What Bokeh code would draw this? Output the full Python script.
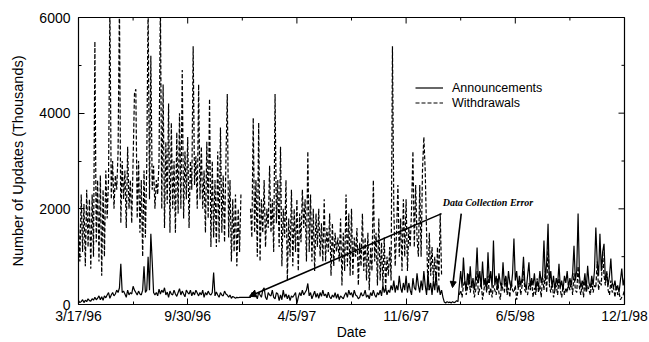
import numpy as np
from bokeh.plotting import figure
from bokeh.models import (Range1d, FixedTicker, Legend, LegendItem,
                          Arrow, NormalHead, Label)
from bokeh.embed import file_html
from bokeh.resources import INLINE

nan = float("nan")

# x axis: sample (day) index; values read every 2.5 samples from the picture
day_step = 2.5
tick_days = [0, 200, 400, 600, 800, 1000]
tick_labels = ["3/17/96", "9/30/96", "4/5/97", "11/6/97", "6/5/98", "12/1/98"]
minor_days = [100, 300, 500, 700, 900]
y_ticks = [0, 2000, 4000, 6000]
y_minor = [1000, 3000, 5000]

# Withdrawals (thousands), NaN = no data
withdrawals = [
    1700, 900, 2300, 1100, 2100, 800, 2400, 1200, 2200, 750,
    2300, 1000, 5500, 1300, 2600, 900, 2700, 600, 2400, 1000,
    2800, 1800, 2600, 6300, 2200, 3000, 2000, 2700, 2400, 3200,
    6300, 1700, 3000, 2200, 2800, 1600, 3300, 2000, 2600, 1700,
    3000, 4400, 4500, 1800, 3000, 1500, 2600, 1000, 2800, 1400,
    2900, 6300, 2200, 5200, 2400, 2900, 2000, 2600, 2300, 3000,
    6300, 2000, 4600, 1600, 3400, 2100, 4200, 1500, 3800, 2000,
    3000, 1500, 3600, 1900, 4000, 2000, 4900, 1800, 3200, 2200,
    3500, 1600, 3000, 2400, 5400, 2500, 3100, 2000, 4600, 2200,
    3300, 2000, 2800, 1500, 3400, 1800, 4300, 1200, 3000, 1400,
    2600, 1200, 3200, 1300, 3700, 1500, 2700, 1300, 3000, 4400,
    1400, 2600, 900, 2200, 1100, 2300, 800, 2000, 1100, 2300,
    nan, nan, nan, nan, nan, nan, 2000, 1400, 3900, 1500,
    2600, 1000, 3800, 900, 2200, 1500, 2600, 1200, 2000, 1600,
    2900, 1500, 2200, 1100, 4400, 1700, 2600, 1200, 3300, 800,
    2000, 1400, 2600, 500, 1800, 1000, 2400, 800, 2000, 1100,
    2200, 700, 1900, 1300, 2400, 1600, 2200, 900, 3200, 1100,
    2300, 900, 2000, 700, 1900, 1200, 2000, 1000, 1700, 900,
    2200, 900, 1600, 1100, 1900, 600, 1700, 800, 1500, 1100,
    1400, 900, 1800, 400, 1500, 700, 2300, 800, 1900, 600,
    2000, 600, 1400, 1000, 1600, 400, 1300, 800, 1900, 700,
    1400, 500, 1500, 300, 1200, 700, 2600, 900, 1500, 400,
    1800, 500, 1300, 400, 1400, 300, 1000, 600, 1200, 500,
    5400, 2000, 800, 1500, 2500, 1000, 1800, 700, 2200, 1000,
    2200, 700, 1600, 1200, 2000, 3200, 1200, 2500, 1400, 1000,
    2500, 1000, 2800, 3500, 2800, 1500, 300, 1500, 600, 1200,
    500, 1000, 400, 1200, 500, 1900, 600, nan, nan, nan,
    nan, nan, nan, nan, nan, nan, nan, nan, nan, 200,
    300, 150, 400, 500, 200, 350, 650, 250, 450, 400,
    150, 300, 700, 200, 350, 450, 100, 300, 500, 250,
    600, 200, 350, 150, 400, 300, 200, 550, 250, 100,
    450, 300, 250, 600, 200, 350, 150, 500, 300, 250,
    400, 100, 300, 500, 200, 400, 700, 300, 250, 200,
    450, 300, 500, 150, 350, 200, 550, 250, 400, 150,
    600, 300, 700, 250, 1300, 400, 250, 500, 150, 300,
    400, 200, 550, 300, 150, 400, 200, 350, 250, 450,
    300, 500, 200, 650, 300, 250, 800, 350, 200, 450,
    150, 500, 250, 400, 300, 200, 500, 250, 400, 350,
    900, 300, 500, 400, 1100, 600, 400, 700, 300, 200,
    500, 250, 350, 150, 400, 200, 250, 100, 150, 200,
    300,
]

# Announcements (thousands)
announcements = [
    80, 40, 60, 100, 40, 90, 60, 120, 80, 70,
    120, 90, 150, 100, 130, 180, 100, 160, 90, 180,
    140, 200, 250, 130, 200, 250, 180, 220, 300, 250,
    350, 850, 250, 280, 220, 150, 300, 200, 250, 220,
    380, 300, 250, 200, 280, 220, 200, 300, 800, 250,
    300, 1000, 300, 1480, 900, 250, 200, 250, 180, 320,
    220, 300, 250, 350, 200, 260, 150, 280, 220, 200,
    300, 220, 170, 250, 330, 200, 280, 220, 160, 300,
    250, 220, 300, 180, 260, 200, 300, 240, 180, 250,
    200, 300, 150, 250, 200, 280, 220, 200, 250, 670,
    180, 260, 200, 150, 250, 200, 180, 280, 220, 200,
    150, 200, 130, 170, 150, 130, 150, 140, 150, 150,
    150, 150, 150, 150, 150, 150, 150, 250, 180, 300,
    200, 120, 260, 200, 150, 300, 350, 150, 100, 250,
    200, 180, 300, 150, 120, 250, 220, 80, 200, 100,
    300, 150, 220, 120, 200, 80, 180, 150, 200, 250,
    20, 150, 250, 180, 300, 200, 250, 300, 440, 180,
    250, 120, 200, 280, 150, 230, 130, 250, 170, 300,
    180, 220, 140, 260, 160, 120, 200, 150, 250, 130,
    220, 100, 180, 150, 120, 200, 250, 150, 300, 200,
    250, 150, 300, 200, 180, 120, 150, 250, 180, 200,
    300, 150, 200, 120, 250, 180, 300, 200, 150, 250,
    200, 300, 180, 400, 250, 350, 200, 300, 250, 400,
    300, 500, 250, 400, 300, 600, 350, 250, 450, 300,
    600, 250, 450, 300, 200, 550, 350, 300, 650, 400,
    250, 500, 300, 700, 400, 200, 650, 300, 450, 200,
    500, 300, 650, 250, 400, 200, 300, 150, 50, 30,
    60, 40, 50, 30, 60, 40, 50, 80, 60, 400,
    700, 350, 980, 500, 300, 650, 400, 800, 350, 550,
    300, 600, 1190, 450, 700, 350, 900, 400, 550, 300,
    1090, 450, 700, 350, 1340, 400, 600, 300, 650, 450,
    350, 880, 400, 600, 300, 700, 450, 350, 650, 1380,
    500, 700, 350, 600, 400, 550, 1000, 450, 300, 600,
    880, 350, 550, 400, 650, 300, 500, 350, 700, 450,
    600, 1340, 500, 900, 1690, 450, 700, 350, 600, 300,
    550, 400, 850, 350, 500, 300, 600, 450, 700, 350,
    550, 400, 650, 1230, 500, 700, 1900, 600, 350, 500,
    400, 650, 300, 810, 450, 350, 600, 400, 700, 1610,
    900, 600, 1480, 700, 1100, 1270, 500, 650, 400, 600,
    960, 450, 350, 500, 300, 400, 250, 500, 750, 400,
    550,
]

assert len(withdrawals) == len(announcements) == 401
day = [k * day_step for k in range(len(withdrawals))]

FONT = "Liberation Sans"
W, H = 649, 342
BL, BR, BT, BB = 78, 25, 17, 38
X0, X1, Y0, Y1 = 0, 1000, 0, 6000

p = figure(width=W, height=H, output_backend="svg", toolbar_location=None,
           x_range=Range1d(X0, X1), y_range=Range1d(Y0, Y1),
           min_border_left=BL, min_border_right=BR, min_border_top=BT,
           min_border_bottom=BB)
p.grid.visible = False
p.outline_line_color = "black"
p.outline_line_width = 1.2
p.background_fill_color = "white"
p.border_fill_color = "white"

xt = FixedTicker(ticks=tick_days, minor_ticks=minor_days)
yt = FixedTicker(ticks=y_ticks, minor_ticks=y_minor)


def style_axis(ax):
    ax.axis_line_color = None
    ax.major_tick_in = 6
    ax.major_tick_out = 0
    ax.minor_tick_in = 3
    ax.minor_tick_out = 0
    ax.major_tick_line_color = "black"
    ax.minor_tick_line_color = "black"
    ax.major_label_text_font = FONT
    ax.major_label_text_color = "black"
    ax.axis_label_text_font = FONT
    ax.axis_label_text_font_style = "normal"
    ax.axis_label_text_color = "black"


xa = p.xaxis[0]
xa.ticker = xt
xa.major_label_overrides = {d: l for d, l in zip(tick_days, tick_labels)}
style_axis(xa)
xa.major_label_text_font_size = "14px"
xa.major_label_standoff = 3
xa.axis_label = "Date"
xa.axis_label_text_font_size = "14px"
xa.axis_label_standoff = -3

ya = p.yaxis[0]
ya.ticker = yt
style_axis(ya)
ya.major_label_text_font_size = "14px"
ya.major_label_standoff = 8
ya.axis_label = "Number of Updates (Thousands)"
ya.axis_label_text_font_size = "14.5px"
ya.axis_label_standoff = 10

# inward ticks on the top and right edges of the frame
fw = W - BL - BR
fh = H - BT - BB
xper = (X1 - X0) / fw
yper = (Y1 - Y0) / fh
p.segment(x0=tick_days, y0=[Y1] * len(tick_days), x1=tick_days,
          y1=[Y1 - 6 * yper] * len(tick_days), line_color="black", line_width=1)
p.segment(x0=minor_days, y0=[Y1] * len(minor_days), x1=minor_days,
          y1=[Y1 - 3 * yper] * len(minor_days), line_color="black", line_width=1)
p.segment(x0=[X1] * len(y_ticks), y0=y_ticks, x1=[X1 - 6 * xper] * len(y_ticks),
          y1=y_ticks, line_color="black", line_width=1)
p.segment(x0=[X1] * len(y_minor), y0=y_minor, x1=[X1 - 3 * xper] * len(y_minor),
          y1=y_minor, line_color="black", line_width=1)

r_w = p.line(day, np.array(withdrawals, dtype=float), line_color="black",
             line_width=1.2, line_dash="4 2")
r_a = p.line(day, np.array(announcements, dtype=float), line_color="black",
             line_width=1.2)

legend = Legend(items=[LegendItem(label="Announcements", renderers=[r_a]),
                       LegendItem(label="Withdrawals", renderers=[r_w])],
                location=(337, 194), glyph_width=28, glyph_height=15,
                label_height=15, label_standoff=9, spacing=0, padding=0,
                margin=0, border_line_color=None, background_fill_alpha=0,
                label_text_font=FONT, label_text_font_size="12.5px",
                label_text_color="black")
p.add_layout(legend)

# annotation
err_text_x, err_text_y = 667, 2133
arrow1 = dict(x_start=665, y_start=1900, x_end=313, y_end=170)
arrow2 = dict(x_start=701, y_start=1900, x_end=685, y_end=355)
for a in (arrow1, arrow2):
    p.add_layout(Arrow(end=NormalHead(size=6, fill_color="black", line_color="black"),
                       line_color="black", line_width=1.6, **a))
p.add_layout(Label(x=err_text_x, y=err_text_y, text="Data Collection Error",
                   text_font="Liberation Serif", text_font_style="bold italic",
                   text_font_size="10px", text_baseline="middle",
                   text_color="black"))

open("out.html", "w").write(file_html(p, INLINE))
